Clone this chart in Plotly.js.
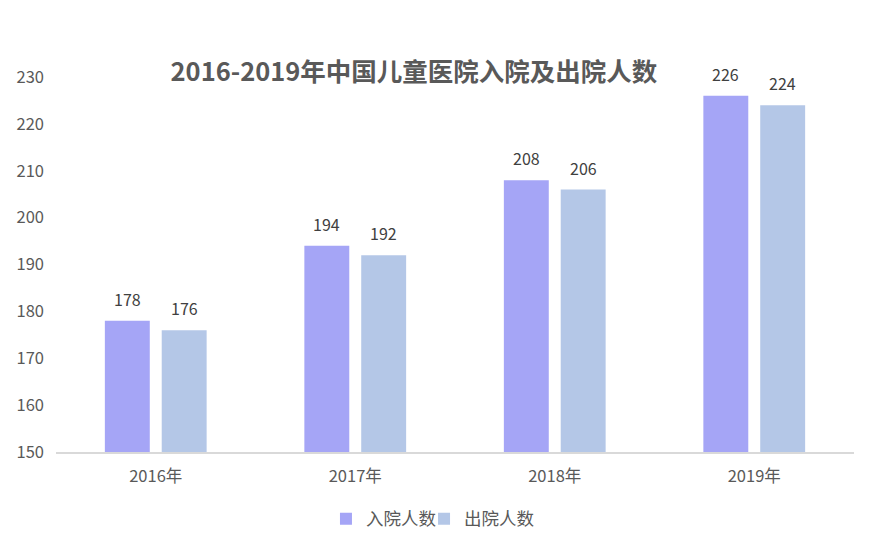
<!DOCTYPE html>
<html>
<head>
<meta charset="utf-8">
<script src="https://cdn.plot.ly/plotly-3.0.1.min.js"></script>
<style>html,body{margin:0;padding:0;background:#fff;}#chart{width:878px;height:550px;}</style>
</head>
<body>
<div id="chart"></div>
<script>
const years = ['2016年', '2017年', '2018年', '2019年'];
const admitted = [178, 194, 208, 226];
const discharged = [176, 192, 206, 224];
const seriesNames = ['入院人数', '出院人数'];
const yTicks = [150, 160, 170, 180, 190, 200, 210, 220, 230];

const FONT = '"Noto Sans CJK SC", "Microsoft YaHei", sans-serif';
const colors = ['#A5A5F6', '#B4C7E7'];

const traces = [admitted, discharged].map((vals, i) => ({
  type: 'bar',
  name: seriesNames[i],
  legend: i === 0 ? 'legend' : 'legend2',
  x: years,
  y: vals.map(v => v - 150),
  base: 150,
  marker: {color: colors[i]},
  hoverinfo: 'skip'
}));

const annotations = [];
[admitted, discharged].forEach((vals, i) => {
  vals.forEach((v, j) => {
    annotations.push({
      x: years[j], y: v, xref: 'x', yref: 'y',
      text: String(v), showarrow: false,
      xshift: i === 0 ? -28.5 : 28.5, yshift: 22,
      font: {family: FONT, size: 16, color: '#404040'}
    });
  });
});

const legendBase = {
  orientation: 'h', xanchor: 'left', y: -0.13, yanchor: 'top',
  font: {family: FONT, size: 17.5, color: '#595959'}, itemwidth: 30, bgcolor: 'rgba(0,0,0,0)'
};

const layout = {
  width: 878, height: 550,
  margin: {l: 56, r: 24, t: 77, b: 98},
  paper_bgcolor: '#fff', plot_bgcolor: '#fff',
  title: {text: '<b>2016-2019年中国儿童医院入院及出院人数</b>', x: 0.4715, xanchor: 'center', y: 0.869, yanchor: 'middle',
          font: {family: FONT, size: 25.5, color: '#595959'}},
  barmode: 'group', bargap: 0.43, bargroupgap: 0.21,
  xaxis: {showline: true, linecolor: '#D9D9D9', linewidth: 1.5, ticks: '', showgrid: false,
          ticklabelstandoff: 9,
          tickfont: {family: FONT, size: 16.5, color: '#595959'}, fixedrange: true},
  yaxis: {range: [150, 230], tickvals: yTicks, ticktext: yTicks.map(String), showgrid: false, zeroline: false,
          showline: false, ticks: '', ticklabelstandoff: 11,
          tickfont: {family: FONT, size: 16.5, color: '#595959'}},
  legend: Object.assign({}, legendBase, {x: 0.3383}),
  legend2: Object.assign({}, legendBase, {x: 0.4612}),
  annotations: annotations,
  showlegend: true
};

Plotly.newPlot('chart', traces, layout, {displayModeBar: false, staticPlot: true});
</script>
</body>
</html>
